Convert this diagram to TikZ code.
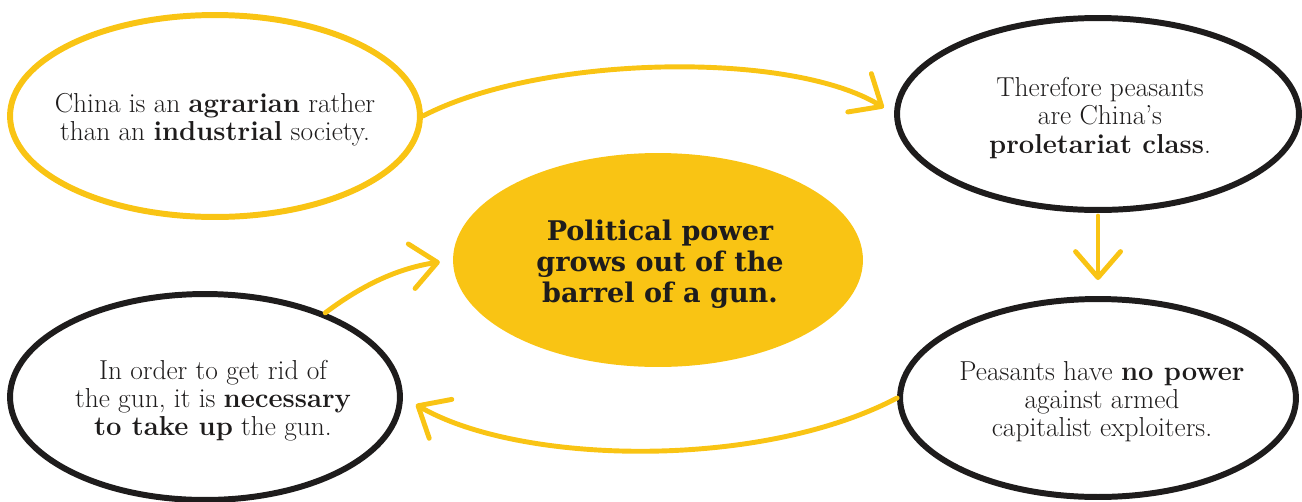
\documentclass[tikz,border=0pt]{standalone}
\usepackage{fontspec}
\newfontfamily\hubfont{DejaVu Serif}
\usetikzlibrary{shapes.geometric,arrows.meta}
\definecolor{mygold}{RGB}{249,196,20}
\definecolor{myink}{RGB}{30,28,28}
\tikzset{
  bubble/.style={ellipse, inner sep=0pt, line width=3.4pt},
  blackbubble/.style={bubble, draw=myink},
  goldbubble/.style={bubble, draw=mygold},
  hub/.style={ellipse, inner sep=0pt, fill=mygold, draw=none},
  bodytext/.style={align=center, text=myink, font=\fontsize{15.6}{16}\selectfont},
  hubtext/.style={align=center, text=myink, font=\hubfont\bfseries\fontsize{15.4}{17.6}\selectfont},
  arr/.style={draw=mygold, line width=2.8pt, line cap=round,
    -{Straight Barb[length=0.52cm, width=0.9cm, round]}}
}
\begin{document}
\begin{tikzpicture}[x=0.02cm, y=-0.02cm]
\useasboundingbox (0,0) rectangle (1302,501);
% bubbles
\node[goldbubble, minimum width=8.2cm, minimum height=4.04cm] (A) at (215,116) {};
\node[blackbubble, minimum width=8.04cm, minimum height=3.84cm] (B) at (1098,114) {};
\node[blackbubble, minimum width=7.8cm, minimum height=4.12cm] (C) at (205,397) {};
\node[blackbubble, minimum width=7.92cm, minimum height=3.96cm] (D) at (1098,398) {};
\node[hub, minimum width=8.2cm, minimum height=4.28cm] (E) at (658,260) {};
% texts
\node[bodytext] (At) at (215,120) {China is an \textbf{agrarian} rather\\than an \textbf{industrial} society.};
\node[bodytext] (Bt) at (1100,118) {Therefore peasants\\are China’s\\\textbf{proletariat class}.};
\node[bodytext] (Ct) at (213,401) {In order to get rid of\\the gun, it is \textbf{necessary}\\\textbf{to take up} the gun.};
\node[bodytext] (Dt) at (1102,402) {Peasants have \textbf{no power}\\against armed\\capitalist exploiters.};
\node[hubtext] (Et) at (660,264) {Political power\\grows out of the\\barrel of a gun.};
% connectors
\draw[arr, shorten >=0.24cm] (A.east) .. controls (540,55) and (790,50) .. (B.west);
\draw[arr, shorten <=0.06cm, shorten >=0.32cm] (B.south) -- (D.north);
\draw[arr, shorten >=0.3cm] (D.west) .. controls (760,470) and (520,465) .. (C.east);
\draw[arr, shorten >=0.26cm] (C.35) .. controls (365,283) and (400,268) .. (E.west);
\end{tikzpicture}
\end{document}
